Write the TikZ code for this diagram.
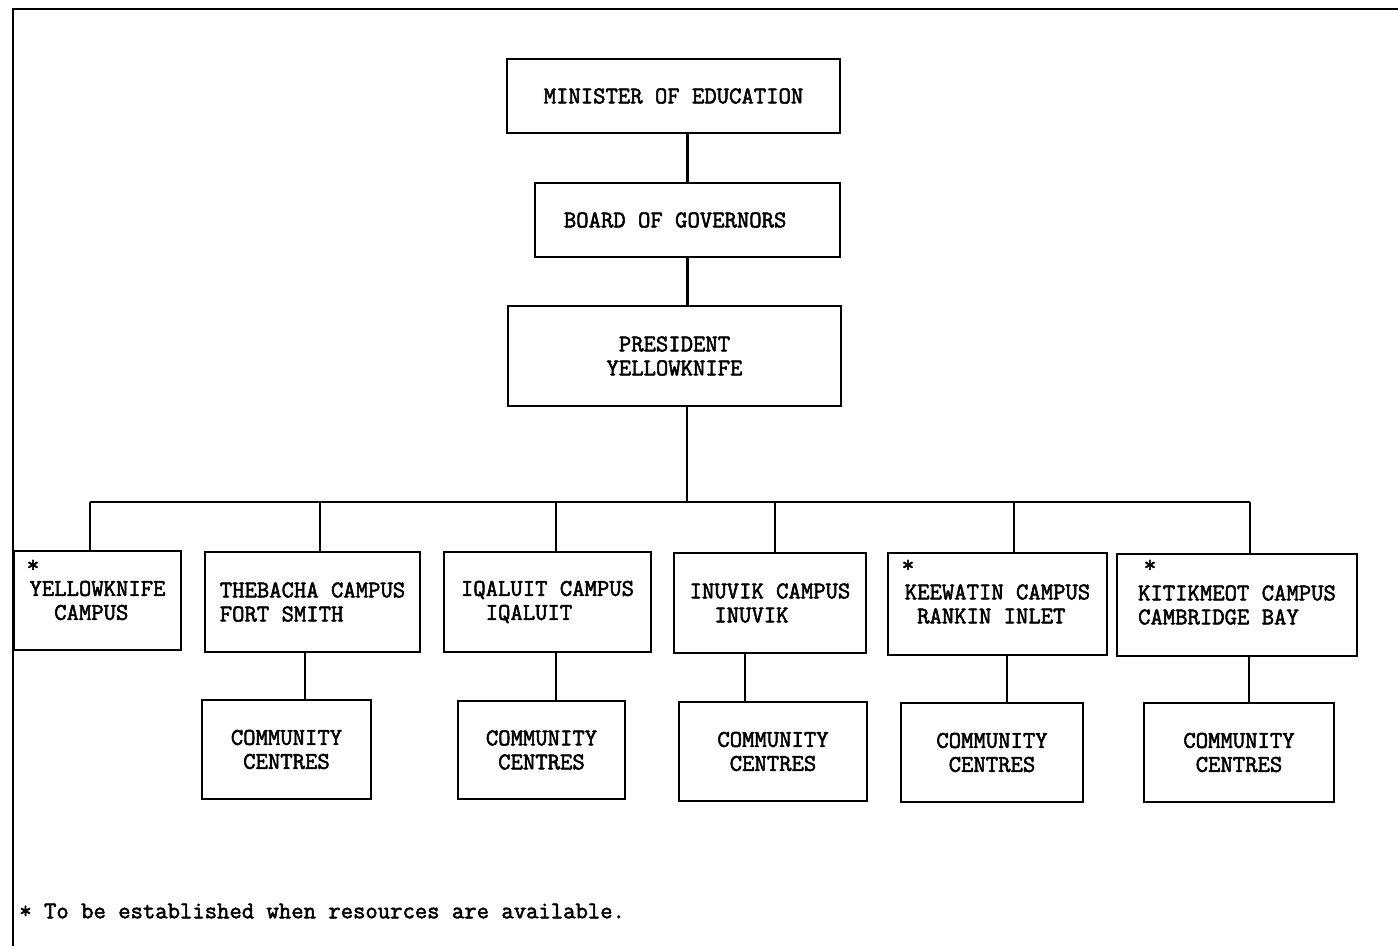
\documentclass[tikz,border=0pt]{standalone}
\usepackage{fontspec}
\newfontfamily\typefont{Latin Modern Mono}[AutoFakeBold=2.2]
\begin{document}
\begin{tikzpicture}[x=0.5pt,y=-0.5pt,line width=1.35pt,
	txt/.style={font=\fontsize{12}{12}\typefont\bfseries\selectfont},
	box/.style={txt,draw,inner sep=0pt,align=left},
	asterisk/.style={txt,inner sep=0pt}]
	\useasboundingbox (0,0) rectangle (1398,946);
	\coordinate (frame-bl) at (13,946);
	\coordinate (frame-tl) at (13,9);
	\coordinate (frame-tr) at (1398,9);
	\draw (frame-bl) -- (frame-tl) -- (frame-tr);
	\node[box,minimum width=166.5pt,minimum height=37pt] (minister) at (673.5,96) {MINISTER OF EDUCATION};
	\node[box,minimum width=152.5pt,minimum height=37pt] (board) at (687.5,220) {BOARD OF GOVERNORS\ \ };
	\node[box,minimum width=166.5pt,minimum height=50pt] (president) at (674.5,356) {\ PRESIDENT\\YELLOWKNIFE};
	\node[box,minimum width=83.5pt,minimum height=49.5pt] (yk) at (97.5,600.5) {YELLOWKNIFE\\\ \ CAMPUS};
	\node[box,minimum width=107.5pt,minimum height=50pt] (thebacha) at (312.5,602) {THEBACHA CAMPUS\\FORT SMITH};
	\node[box,minimum width=103.5pt,minimum height=50pt] (iqaluit) at (547.5,602) {IQALUIT CAMPUS\\\ \ IQALUIT};
	\node[box,minimum width=96pt,minimum height=50pt] (inuvik) at (770,603) {INUVIK CAMPUS\\\ \ INUVIK};
	\node[box,minimum width=109.5pt,minimum height=51pt] (keewatin) at (997.5,604) {KEEWATIN CAMPUS\\\ RANKIN INLET};
	\node[box,minimum width=120pt,minimum height=51pt] (kitikmeot) at (1237,605) {KITIKMEOT CAMPUS\\CAMBRIDGE BAY};
	\node[box,minimum width=84.5pt,minimum height=49.5pt] (cc-thebacha) at (286.5,749.5) {COMMUNITY\\\ CENTRES};
	\node[box,minimum width=83.5pt,minimum height=49pt] (cc-iqaluit) at (541.5,750) {COMMUNITY\\\ CENTRES};
	\node[box,minimum width=94pt,minimum height=49.5pt] (cc-inuvik) at (773,751.5) {COMMUNITY\\\ CENTRES};
	\node[box,minimum width=91pt,minimum height=49.5pt] (cc-keewatin) at (992,752.5) {COMMUNITY\\\ CENTRES};
	\node[box,minimum width=95pt,minimum height=49.5pt] (cc-kitikmeot) at (1239,752.5) {COMMUNITY\\\ CENTRES};
	\node[asterisk] (star-yk) at (33,566) {*};
	\node[asterisk] (star-keewatin) at (908,566) {*};
	\node[asterisk] (star-kitikmeot) at (1150,566) {*};
	\node[txt,anchor=west,inner sep=0pt] (note) at (18,911) {* To be established when resources are available.};
	\draw (board.north) -- (board.north |- minister.south);
	\draw (board.south) -- (board.south |- president.north);
	\coordinate (bus) at (687,502);
	\coordinate (bus-left) at (90,502);
	\coordinate (bus-right) at (1250,502);
	\draw (bus |- president.south) -- (bus);
	\draw (bus-left) -- (bus-right);
	\foreach \n/\x in {yk/90,thebacha/320,iqaluit/556,inuvik/775,keewatin/1014,kitikmeot/1250}
	{
		\coordinate (up-\n) at (\x,502);
		\draw (up-\n) -- (up-\n |- \n.north);
	}
	\foreach \n/\x in {thebacha/305,iqaluit/556,inuvik/745,keewatin/1007,kitikmeot/1249}
	{
		\coordinate (dn-\n) at (\x,700);
		\draw (dn-\n |- \n.south) -- (dn-\n |- cc-\n.north);
	}
\end{tikzpicture}
\end{document}
